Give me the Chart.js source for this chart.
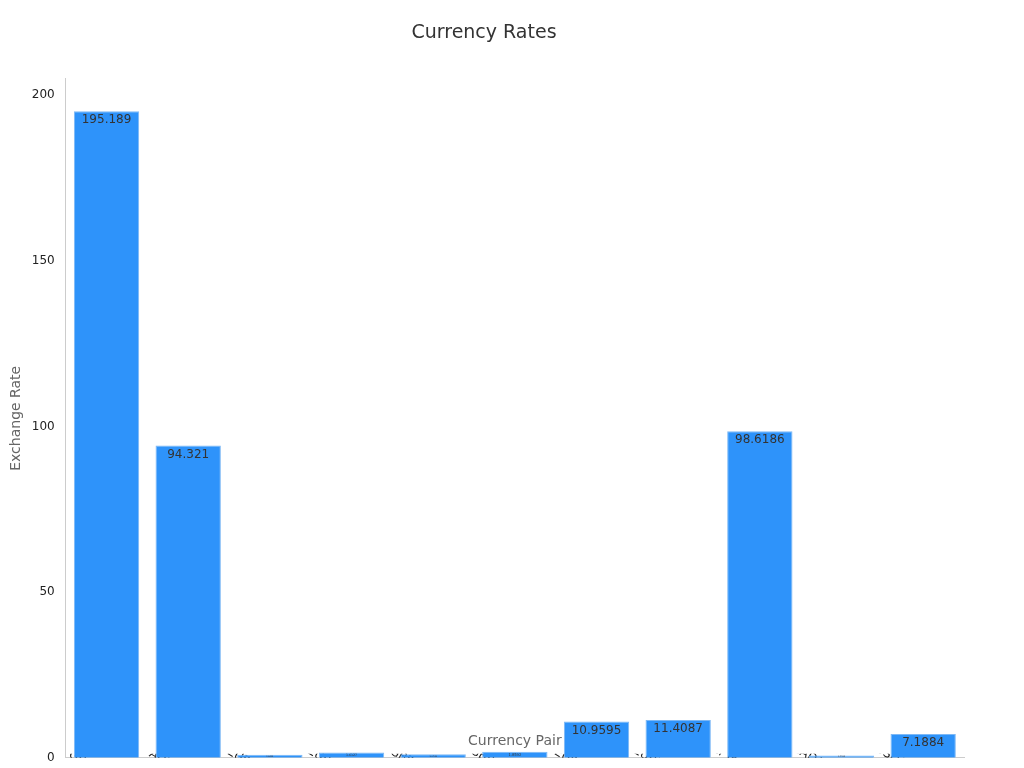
<!DOCTYPE html><html><head><script src="https://cdn.jsdelivr.net/npm/chart.js"></script>
<style>body{margin:0;background:#fff}</style></head><body><canvas id="c" width="1024" height="768"></canvas>
<script>
const categories=["GBPJPY","AUDJPY","EURCHF","EURCAD","GBPCHF","GBPCAD","EURSEK","EURNOK","DXY (US Dollar Index)","CAD/USD","USD/CNY"];
const rates=[195.189,94.321,0.9412,1.6127,1.0708,1.8592,10.9595,11.4087,98.6186,0.7315,7.1884];
const labelPlugin={id:'lbl',afterDatasetsDraw(ch){const ctx=ch.ctx;const meta=ch.getDatasetMeta(0);ctx.save();ctx.fillStyle='#333';ctx.textAlign='center';ctx.textBaseline='middle';
meta.data.forEach((b,i)=>{const h=b.base-b.y;const fs=Math.max(2,Math.min(12,h*0.6));ctx.font=fs+'px "DejaVu Sans"';ctx.fillText(String(rates[i]),b.x,b.y+Math.min(9,h/2));});ctx.restore();}};
new Chart(document.getElementById('c'),{type:'bar',data:{labels:categories,datasets:[{data:rates,backgroundColor:'#2e93fa',borderColor:'#7db8f5',borderWidth:1,barPercentage:0.8,categoryPercentage:1}]},
plugins:[labelPlugin],
options:{responsive:false,animation:false,devicePixelRatio:1,layout:{padding:{left:4,right:60,top:10,bottom:8}},
plugins:{legend:{display:false},tooltip:{enabled:false},title:{display:true,text:'Currency Rates',color:'#333',font:{family:'DejaVu Sans',size:19,weight:'normal'},padding:{top:12,bottom:34}}},
scales:{x:{grid:{display:false,drawTicks:true},border:{color:'#ccc'},ticks:{color:'#222',font:{family:'DejaVu Sans',size:12},maxRotation:-30,minRotation:-30},title:{display:true,text:'Currency Pair',color:'#666',font:{family:'DejaVu Sans',size:14},padding:{top:14}}},
y:{min:0,max:205,grid:{display:false,drawTicks:true},border:{color:'#ccc'},ticks:{stepSize:50,color:'#222',font:{family:'DejaVu Sans',size:12},callback:v=>v%50===0?v:null},title:{display:true,text:'Exchange Rate',color:'#666',font:{family:'DejaVu Sans',size:14}}}}}});
</script></body></html>
